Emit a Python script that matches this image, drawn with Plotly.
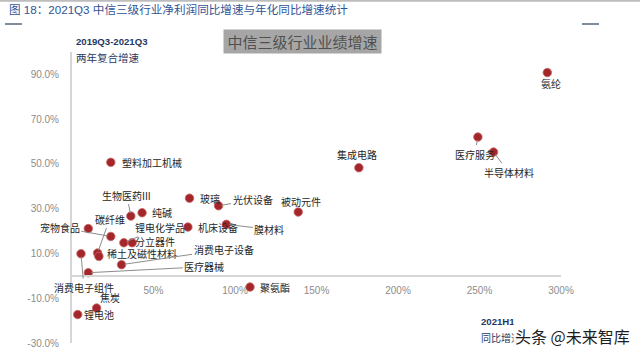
import plotly.graph_objects as go

# ---------------- data ----------------
names = ["氨纶", "塑料加工机械", "集成电路", "医疗服务", "半导体材料", "玻璃", "光伏设备",
         "被动元件", "机床设备", "膜材料", "锂电化学品", "分立器件", "生物医药III", "纯碱",
         "", "宠物食品", "碳纤维", "稀土及磁性材料", "消费电子组件", "医疗器械",
         "消费电子设备", "聚氨酯", "焦炭", "锂电池"]
# 2021H1 YoY growth (%)
yoy_2021h1 = [291.6, 23.8, 176.0, 249.0, 258.6, 72.1, 89.9,
              138.8, 71.1, 94.7, 31.8, 36.9, 36.1, 43.0,
              10.0, 23.8, 15.7, 16.5, 5.5, 10.0,
              30.4, 109.2, 15.1, 3.5]
# 2019Q3-2021Q3 two-year compound growth (%)
cagr_2y = [90.8, 50.7, 48.3, 62.0, 55.3, 34.7, 31.3,
           28.5, 21.8, 23.0, 14.8, 14.8, 26.7, 28.2,
           21.1, 17.6, 10.2, 8.7, 9.9, 1.4,
           5.0, -5.0, -14.4, -17.3]

x_ticks = [50, 100, 150, 200, 250, 300]
x_tick_labels = ["50%", "100%", "150%", "200%", "250%", "300%"]
y_ticks = [-30, -10, 10, 30, 50, 70, 90]
y_tick_labels = ["-30.0%", "-10.0%", "10.0%", "30.0%", "50.0%", "70.0%", "90.0%"]

# label placement (pixel offsets of label centre from its point) and leader flag
label_dx = [4, 41, -2, -3, 15, 20, 34, 3, 30, 43, 36, 23, -4, 20, 0, -51, 12, 43, 3, 116, 102, 25, 13, 21]
label_dy = [11, 0, -13, 17, 20, 0, -6, -11, 0, 5, -15, -1, -21, 0, 0, -9, -34, -3, 34, -6, -15, 0, -11, 0]
leader = [0, 0, 0, 1, 1, 0, 1, 0, 0, 1, 1, 0, 1, 0, 0, 1, 1, 0, 1, 1, 1, 0, 0, 0]

# ---------------- layout geometry ----------------
W, H = 640, 356
L, R, T, B = 72, 79, 52, 13
PW, PH = W - L - R, H - T - B


def pxx(xp):
    return (xp - L) / PW


def pxy(yp):
    return (H - B - yp) / PH


CJK = "Noto Sans CJK SC"
SANS = "Liberation Sans, Noto Sans CJK SC"

fig = go.Figure(go.Scatter(
    x=yoy_2021h1, y=cagr_2y, mode="markers",
    marker=dict(size=8.5, color="#A3262B", line=dict(color="#C8686A", width=0.8)),
    hoverinfo="skip", showlegend=False))

ann = []
for n, xv, yv, dx, dy, ld in zip(names, yoy_2021h1, cagr_2y, label_dx, label_dy, leader):
    if not n:
        continue
    ann.append(dict(x=xv, y=yv, xref="x", yref="y", text=n, showarrow=True,
                    ax=dx, ay=dy, arrowhead=0, arrowwidth=1, standoff=3,
                    arrowcolor="#8C8C8C" if ld else "rgba(0,0,0,0)",
                    font=dict(family=CJK, size=10, color="#262626")))

# title
ann.append(dict(x=pxx(7), y=pxy(9), xref="paper", yref="paper", xanchor="left", yanchor="middle",
                text="图 18：2021Q3 中信三级行业净利润同比增速与年化同比增速统计", showarrow=False,
                font=dict(family=SANS, size=11.6, color="#2F5496")))
# y axis title
ann.append(dict(x=pxx(74), y=pxy(42), xref="paper", yref="paper", xanchor="left", yanchor="middle",
                text="<b>2019Q3-2021Q3</b>", showarrow=False,
                font=dict(family=SANS, size=9.6, color="#1F3864")))
ann.append(dict(x=pxx(74), y=pxy(57), xref="paper", yref="paper", xanchor="left", yanchor="middle",
                text="两年复合增速", showarrow=False,
                font=dict(family=CJK, size=10.5, color="#1F3864")))
# boxed heading
ann.append(dict(x=pxx(302.5), y=pxy(41.5), xref="paper", yref="paper", xanchor="center", yanchor="middle",
                text="中信三级行业业绩增速", showarrow=False, bgcolor="#A6A6A6",
                width=153, height=19, borderpad=2,
                font=dict(family=CJK, size=15, color="#505050")))
# x axis title
ann.append(dict(x=pxx(479), y=pxy(321), xref="paper", yref="paper", xanchor="left", yanchor="middle",
                text="<b>2021H1</b>", showarrow=False,
                font=dict(family=SANS, size=9.6, color="#1F3864")))
ann.append(dict(x=pxx(479), y=pxy(337), xref="paper", yref="paper", xanchor="left", yanchor="middle",
                text="同比增速", showarrow=False,
                font=dict(family=CJK, size=10, color="#1F3864")))
# watermark
ann.append(dict(x=pxx(513), y=pxy(336), xref="paper", yref="paper", xanchor="left", yanchor="middle",
                text="头条 @未来智库", showarrow=False, bgcolor="rgba(255,255,255,0.9)",
                font=dict(family=CJK, size=16, color="#1E1E1E")))

shapes = [
    dict(type="line", xref="paper", yref="paper", x0=pxx(0), x1=pxx(640), y0=pxy(0.8), y1=pxy(0.8),
         line=dict(color="#BDBDBD", width=2)),
    dict(type="line", xref="paper", yref="paper", x0=pxx(5), x1=pxx(22), y0=pxy(24), y1=pxy(24),
         line=dict(color="#7F8C99", width=2)),
    dict(type="line", xref="paper", yref="paper", x0=pxx(582), x1=pxx(599), y0=pxy(24), y1=pxy(24),
         line=dict(color="#7F8C99", width=2)),
]

fig.update_layout(
    width=W, height=H, margin=dict(l=L, r=R, t=T, b=B, pad=0),
    paper_bgcolor="white", plot_bgcolor="white",
    annotations=ann, shapes=shapes, hovermode=False,
    xaxis=dict(range=[0, 300], tickvals=x_ticks, ticktext=x_tick_labels,
               showline=True, linecolor="#D6D6D6", linewidth=2, showgrid=False, zeroline=False,
               anchor="free", position=30 / 130, ticks="", ticklabelstandoff=5, automargin=False,
               tickfont=dict(family="Liberation Sans", size=10, color="#8C8C8C")),
    yaxis=dict(range=[-30, 100], tickvals=y_ticks, ticktext=y_tick_labels,
               showline=True, linecolor="#D6D6D6", linewidth=2, showgrid=False, zeroline=False,
               ticks="", ticklabelstandoff=9, automargin=False,
               tickfont=dict(family="Liberation Sans", size=10, color="#8C8C8C")),
)

fig.write_html("out.html", config={"displayModeBar": False},
               post_script="document.body.style.margin='0';document.body.style.overflow='hidden';")
